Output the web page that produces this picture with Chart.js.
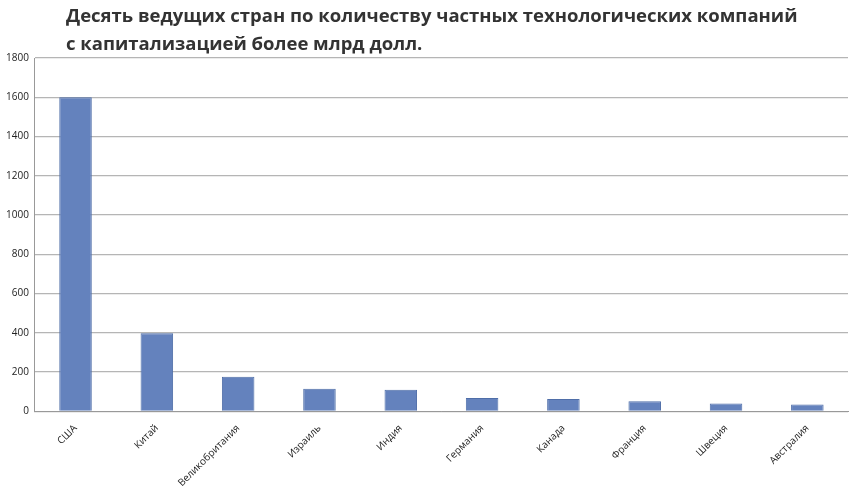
<!DOCTYPE html>
<html>
<head>
<meta charset="utf-8">
<script src="https://cdn.jsdelivr.net/npm/chart.js@4"></script>
<style>
  body { margin: 0; background: #fff; }
  #wrap { position: relative; width: 850px; height: 501px; }
  #title { position: absolute; left: 66px; top: 1px; font: bold 18.5px "Open Sans", sans-serif; color: #333; line-height: 28px; }
</style>
</head>
<body>
<div id="wrap">
  <div id="title">Десять ведущих стран по количеству частных технологических компаний<br>с капитализацией более млрд долл.</div>
  <canvas id="chart" width="850" height="501"></canvas>
</div>
<script>
const countries = ["США", "Китай", "Великобритания", "Израиль", "Индия", "Германия", "Канада", "Франция", "Швеция", "Австралия"];
const companies = [1600, 398, 176, 115, 110, 68, 63, 52, 40, 35];
const yTicks = [0, 200, 400, 600, 800, 1000, 1200, 1400, 1600, 1800];

new Chart(document.getElementById("chart"), {
    type: "bar",
    data: {
        labels: countries,
        datasets: [{
            data: companies,
            backgroundColor: "#6482bd",
            borderColor: "#4f6ea8",
            borderWidth: 1,
            categoryPercentage: 1,
            barPercentage: 0.4
        }]
    },
    options: {
        responsive: false,
        animation: false,
        layout: { padding: { top: 58, right: 2, left: 0, bottom: 9 } },
        plugins: { legend: { display: false }, tooltip: { enabled: false } },
        scales: {
            x: {
                grid: { display: false },
                border: { color: "#999" },
                ticks: { maxRotation: 45, minRotation: 45, color: "#222", font: { size: 10, family: "Open Sans" } }
            },
            y: {
                min: 0, max: 1800,
                afterBuildTicks: axis => { axis.ticks = yTicks.map(v => ({ value: v })); },
                grid: { color: "#b5b5b5", lineWidth: 1.2, drawTicks: false },
                border: { color: "#999" },
                ticks: { padding: 6, color: "#222", font: { size: 10, family: "Open Sans" }, callback: v => String(v) }
            }
        }
    }
});
</script>
</body>
</html>
